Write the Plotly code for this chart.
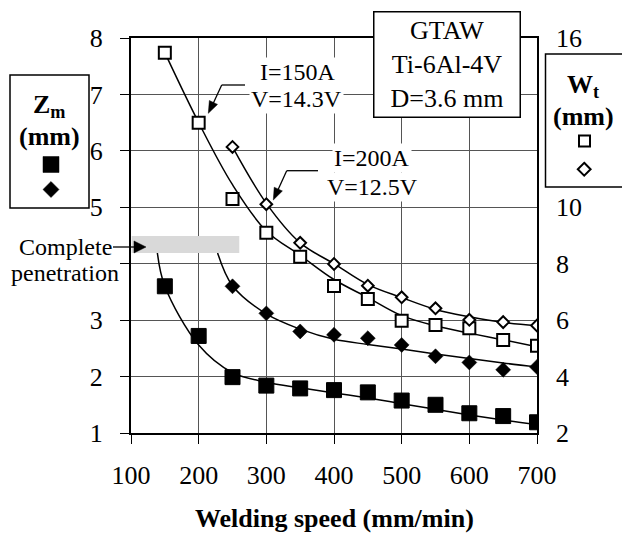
import math
import plotly.graph_objects as go

# ---------------- data ----------------
speed = [150, 200, 250, 300, 350, 400, 450, 500, 550, 600, 650, 700]
speed_200 = [250, 300, 350, 400, 450, 500, 550, 600, 650, 700]

# Zm (mm), left axis
zm_150 = [3.6, 2.72, 1.99, 1.84, 1.79, 1.76, 1.72, 1.575, 1.5, 1.35, 1.3, 1.19]
zm_200 = [3.6, 3.12, 2.80, 2.74, 2.68, 2.56, 2.36, 2.25, 2.12, 2.17]

# Wt (mm), right axis
wt_150 = [15.48, 13.0, 10.29, 9.1, 8.25, 7.21, 6.75, 5.98, 5.83, 5.71, 5.3, 5.09]
wt_200 = [12.14, 10.11, 8.74, 7.99, 7.22, 6.81, 6.42, 6.01, 5.93, 5.81]

# fitted trend curves
fit_zm150_x = [139, 150, 200, 250, 300, 350, 400, 450, 500, 550, 600, 650, 700]
fit_zm150_y = [4.19, 3.6, 2.56, 2.07, 1.9, 1.8, 1.71, 1.62, 1.52, 1.42, 1.32, 1.23, 1.15]
fit_zm200_x = [228, 250, 300, 350, 400, 450, 500, 550, 600, 650, 700]
fit_zm200_y = [4.19, 3.61, 3.11, 2.84, 2.66, 2.57, 2.49, 2.40, 2.32, 2.24, 2.17]
fit_wt150_x = [150, 200, 250, 300, 350, 400, 450, 500, 550, 600, 650, 700]
fit_wt150_y = [15.48, 13.0, 10.8, 9.16, 8.3, 7.44, 6.8, 6.16, 5.8, 5.54, 5.3, 5.06]
fit_wt200_x = [250, 300, 350, 400, 450, 500, 550, 600, 650, 700]
fit_wt200_y = [12.14, 10.14, 8.74, 8.0, 7.26, 6.8, 6.38, 6.12, 5.92, 5.8]

x_ticks = [100, 200, 300, 400, 500, 600, 700]
zm_ticks = [1, 2, 3, 5, 6, 7, 8]          # label at 4 is hidden by the band caption
wt_ticks = [2, 4, 6, 8, 10, 16]           # 12 and 14 are hidden by the legend box

band_x = [100, 260]
band_zm = [4.19, 4.49]

X_RANGE = [100, 700]
ZM_RANGE = [1, 8]
WT_RANGE = [2, 16]

FONT = "Liberation Serif, Times New Roman, serif"
W, H = 622, 535
L, R, T, B = 131, 537, 38, 433


def px(x):
    return (x - L) / (R - L)


def py(y):
    return (B - y) / (B - T)


def poly(pts):
    return "M " + " L ".join(f"{px(a):.5f},{py(b):.5f}" for a, b in pts) + " Z"


def head(tail, tip, length=12, half=4.5):
    vx, vy = tip[0] - tail[0], tip[1] - tail[1]
    n = math.hypot(vx, vy)
    ux, uy = vx / n, vy / n
    bx, by = tip[0] - ux * length, tip[1] - uy * length
    return poly([tip, (bx - uy * half, by + ux * half), (bx + uy * half, by - ux * half)])


def diamond(cx, cy, h):
    return poly([(cx, cy - h), (cx + h, cy), (cx, cy + h), (cx - h, cy)])


fig = go.Figure()

# curves
for xs, ys, ax in [(fit_zm150_x, fit_zm150_y, "y"), (fit_zm200_x, fit_zm200_y, "y"),
                   (fit_wt150_x, fit_wt150_y, "y2"), (fit_wt200_x, fit_wt200_y, "y2")]:
    fig.add_trace(go.Scatter(x=xs, y=ys, yaxis=ax, mode="lines",
                             line=dict(color="black", width=1.5, shape="spline", smoothing=1.0),
                             hoverinfo="skip", showlegend=False))

# markers
fig.add_trace(go.Scatter(x=speed, y=wt_150, yaxis="y2", mode="markers", name="Wt, I=150A",
                         marker=dict(symbol="square", size=12, color="white",
                                     line=dict(color="black", width=2)), showlegend=False))
fig.add_trace(go.Scatter(x=speed_200, y=wt_200, yaxis="y2", mode="markers", name="Wt, I=200A",
                         marker=dict(symbol="diamond", size=9, color="white",
                                     line=dict(color="black", width=2)), showlegend=False))
fig.add_trace(go.Scatter(x=speed, y=zm_150, mode="markers", name="Zm, I=150A",
                         marker=dict(symbol="square", size=15, color="black",
                                     line=dict(color="black", width=1)), showlegend=False))
fig.add_trace(go.Scatter(x=speed_200, y=zm_200, mode="markers", name="Zm, I=200A",
                         marker=dict(symbol="diamond", size=11.5, color="black",
                                     line=dict(color="black", width=0.5)), showlegend=False))

ln = dict(color="black", width=1.3)
blk = dict(width=0.5, color="black")
shapes = [
    # complete penetration band
    dict(type="rect", xref="x", yref="y", x0=band_x[0] + 1, x1=band_x[1],
         y0=band_zm[0], y1=band_zm[1], fillcolor="#d9d9d9", line=dict(width=0), layer="above"),
    # legend boxes
    dict(type="rect", xref="paper", yref="paper", x0=px(10), x1=px(89), y0=py(208), y1=py(75),
         line=dict(color="black", width=1.5)),
    dict(type="rect", xref="paper", yref="paper", x0=px(545.5), x1=px(640), y0=py(187), y1=py(54),
         line=dict(color="black", width=1.5)),
    # legend glyphs
    dict(type="rect", xref="paper", yref="paper", x0=px(43), x1=px(59), y0=py(172.5), y1=py(156.5),
         fillcolor="black", line=blk),
    dict(type="path", xref="paper", yref="paper", path=diamond(51, 189.5, 8),
         fillcolor="black", line=blk),
    dict(type="rect", xref="paper", yref="paper", x0=px(579), x1=px(590), y0=py(146.5), y1=py(135.5),
         fillcolor="white", line=dict(color="black", width=2)),
    dict(type="path", xref="paper", yref="paper", path=diamond(584.2, 169.2, 6.4),
         fillcolor="white", line=dict(color="black", width=2)),
    # callout connector lines
    dict(type="line", xref="paper", yref="paper", x0=px(221.7), x1=px(245), y0=py(85), y1=py(85), line=ln),
    dict(type="line", xref="paper", yref="paper", x0=px(221.7), x1=px(212), y0=py(85), y1=py(106), line=ln),
    dict(type="line", xref="paper", yref="paper", x0=px(286.7), x1=px(318), y0=py(170.7), y1=py(170.7), line=ln),
    dict(type="line", xref="paper", yref="paper", x0=px(286.7), x1=px(277), y0=py(170.7), y1=py(192), line=ln),
    dict(type="line", xref="paper", yref="paper", x0=px(113), x1=px(138), y0=py(247), y1=py(247), line=ln),
    # arrow heads
    dict(type="path", xref="paper", yref="paper", path=head((221.7, 85), (208.3, 113.3)),
         fillcolor="black", line=blk),
    dict(type="path", xref="paper", yref="paper", path=head((286.7, 170.7), (273.3, 200)),
         fillcolor="black", line=blk),
    dict(type="path", xref="paper", yref="paper", path=head((113, 247), (146, 247), length=12, half=6),
         fillcolor="black", line=blk),
]


def txt(text, x, y, size=24, **kw):
    d = dict(text=text, xref="paper", yref="paper", x=px(x), y=py(y), showarrow=False,
             xanchor="center", yanchor="middle", font=dict(family=FONT, size=size, color="black"))
    d.update(kw)
    return d


annotations = [
    txt("I=150A", 298, 72, bgcolor="white", borderpad=1),
    txt("V=14.3V", 296, 98.7, bgcolor="white", borderpad=1),
    txt("I=200A", 372, 158.3, bgcolor="white", borderpad=1),
    txt("V=12.5V", 372, 186.7, bgcolor="white", borderpad=1),
    txt("GTAW<br>Ti-6Al-4V<br>D=3.6 mm", 447, 64, size=26, bgcolor="white",
        bordercolor="black", borderwidth=1.5, borderpad=0, width=145, height=104),
    txt("Complete", 65.5, 247),
    txt("penetration", 65, 273),
    txt("<b>Z<sub>m</sub></b>", 49.5, 106, size=26),
    txt("<b>(mm)</b>", 49.5, 136, size=26),
    txt("<b>W<sub>t</sub></b>", 583, 86, size=26),
    txt("<b>(mm)</b>", 583, 117, size=26),
    txt("<b>Welding speed (mm/min)</b>", 334, 518, size=26),
]

grid = "#555555"
fig.update_layout(
    width=W, height=H,
    margin=dict(l=L, r=W - R, t=T, b=H - B, pad=0),
    paper_bgcolor="white", plot_bgcolor="white",
    font=dict(family=FONT, size=26, color="black"),
    showlegend=False,
    xaxis=dict(range=X_RANGE, tickvals=x_ticks, ticks="outside", ticklen=9, tickwidth=1,
               tickcolor="black", showline=True, linewidth=2, linecolor="black", mirror=True,
               showgrid=True, gridcolor=grid, gridwidth=1, zeroline=False,
               tickfont=dict(family=FONT, size=26), ticklabelstandoff=9),
    yaxis=dict(range=ZM_RANGE, tickvals=zm_ticks, ticks="outside", ticklen=9,
               tickwidth=1, tickcolor="black", showline=True, linewidth=2, linecolor="black",
               mirror=True, showgrid=True, gridcolor=grid, gridwidth=1, zeroline=False,
               minor=dict(dtick=1, tick0=1, ticks="outside", ticklen=9, tickcolor="black",
                          showgrid=True, gridcolor=grid, gridwidth=1),
               tickfont=dict(family=FONT, size=26), ticklabelstandoff=12),
    yaxis2=dict(range=WT_RANGE, overlaying="y", side="right", tickvals=wt_ticks,
                ticks="", showgrid=False, showline=False, zeroline=False,
                tickfont=dict(family=FONT, size=26), ticklabelstandoff=18),
    shapes=shapes,
    annotations=annotations,
)

fig.write_html("out.html", config={"displayModeBar": False},
               post_script="document.body.style.margin='0px';")
